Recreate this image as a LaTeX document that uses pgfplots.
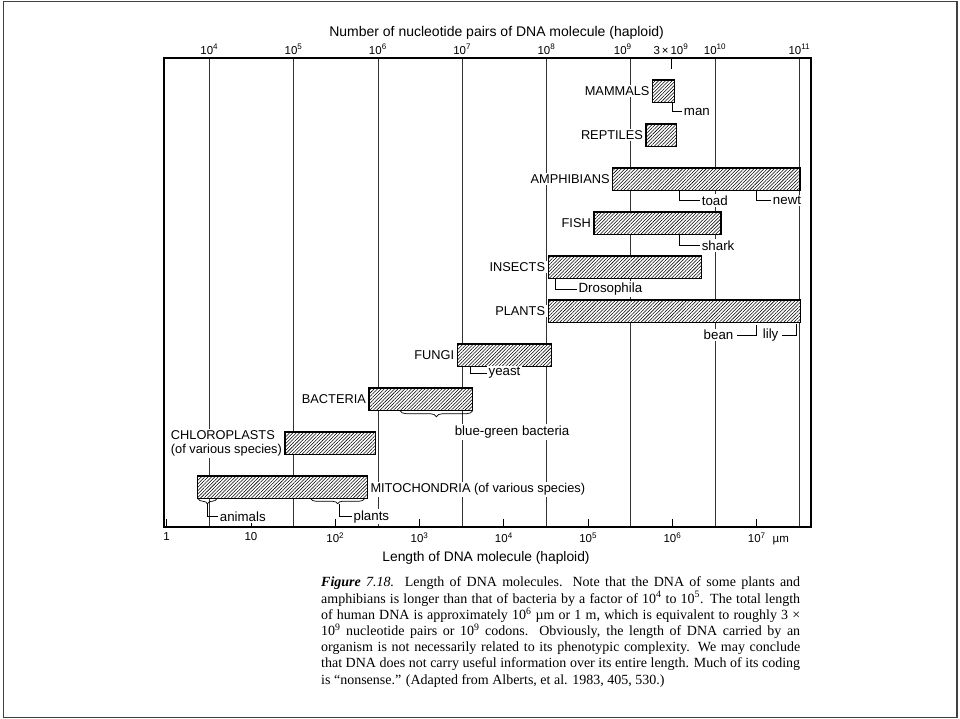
\documentclass[border=0pt]{standalone}
\usepackage{fontspec}
\setmainfont{Liberation Sans}
\newfontfamily\capfont{Liberation Serif}
\usepackage{pgfplots}
\pgfplotsset{compat=1.18}
\usetikzlibrary{patterns.meta,decorations.pathreplacing}
\tikzset{
  dnabar/.style={draw=black,line width=1.3pt,fill=white,
    postaction={pattern={Lines[angle=45,distance=2.4pt,line width=0.55pt]}}},
  lead/.style={draw=black,line width=0.7pt},
  lab/.style={font=\fontsize{12.8}{14.5}\selectfont,inner sep=1.5pt,fill=white},
  ann/.style={font=\fontsize{13.3}{15}\selectfont,inner sep=1.5pt,anchor=west,fill=white},
  brc/.style={draw=black,line width=0.7pt,decorate,decoration={brace,mirror,amplitude=5pt}},
}
\begin{document}
\begin{tikzpicture}[x=1pt,y=1pt]
\path[use as bounding box] (0,0) rectangle (960,719);
\draw[black!75,line width=1.2pt] (3.5,1.5) rectangle (957,717.5);
% top axis: nucleotide pairs
\begin{axis}[
  at={(164pt,192pt)}, anchor=south west, scale only axis,
  width=647pt, height=469pt,
  xmode=log, xmin=2906, xmax=1.375e11, ymin=0, ymax=1,
  axis x line*=top, hide y axis,
  xtick={1e4,1e5,1e6,1e7,1e8,1e9,1e10,1e11},
  xticklabels={10\textsuperscript{4},10\textsuperscript{5},10\textsuperscript{6},10\textsuperscript{7},10\textsuperscript{8},10\textsuperscript{9}\kern16pt,10\textsuperscript{10},10\textsuperscript{11}},
  xmajorgrids, major grid style={black!80,line width=0.6pt},
  major tick length=0pt, xminorticks=false,
  xticklabel style={font=\fontsize{11.5}{13}\selectfont},
  extra x ticks={3e9},
  extra x tick labels={3\,×\,10\textsuperscript{9}},
  extra x tick style={xmajorgrids=false, major tick length=11pt, tick align=inside,
    tick style={line width=0.8pt,black}},
]
\end{axis}
% main axis: length in micrometres
\begin{axis}[
  at={(164pt,192pt)}, anchor=south west, scale only axis,
  width=647pt, height=469pt,
  xmode=log, xmin=0.93, xmax=4.4e7, ymin=-0.902, ymax=9.753,
  clip=false, axis line style={line width=1.2pt},
  ytick=\empty,
  xtick={1,10,100,1000,1e4,1e5,1e6,1e7},
  xticklabels={1,10,10\textsuperscript{2},10\textsuperscript{3},10\textsuperscript{4},10\textsuperscript{5},10\textsuperscript{6},10\textsuperscript{7}\rlap{\kern7pt µm}},
  xtick pos=left, tick align=inside, major tick length=8pt, xminorticks=false,
  tick style={line width=0.8pt,black},
  xticklabel style={font=\fontsize{11.5}{13}\selectfont,yshift=-2pt},
]
% bars: (low, high) in micrometres, row index
\addplot[dnabar] coordinates {(5.84e5,8.746) (1.065e6,8.746) (1.065e6,9.254) (5.84e5,9.254)} -- cycle; % mammals
\addplot[dnabar] coordinates {(4.87e5,7.746) (1.125e6,7.746) (1.125e6,8.254) (4.87e5,8.254)} -- cycle; % reptiles
\addplot[dnabar] coordinates {(1.96e5,6.746) (3.27e7,6.746) (3.27e7,7.254) (1.96e5,7.254)} -- cycle; % amphibians
\addplot[dnabar] coordinates {(1.175e5,5.746) (3.77e6,5.746) (3.77e6,6.254) (1.175e5,6.254)} -- cycle; % fish
\addplot[dnabar] coordinates {(3.37e4,4.746) (2.23e6,4.746) (2.23e6,5.254) (3.37e4,5.254)} -- cycle; % insects
\addplot[dnabar] coordinates {(3.37e4,3.746) (3.33e7,3.746) (3.33e7,4.254) (3.37e4,4.254)} -- cycle; % plants
\addplot[dnabar] coordinates {(2812,2.746) (3.70e4,2.746) (3.70e4,3.254) (2812,3.254)} -- cycle; % fungi
\addplot[dnabar] coordinates {(252,1.746) (4276,1.746) (4276,2.254) (252,2.254)} -- cycle; % bacteria
\addplot[dnabar] coordinates {(25.4,0.746) (302,0.746) (302,1.254) (25.4,1.254)} -- cycle; % chloroplasts
\addplot[dnabar] coordinates {(2.34,-0.254) (240,-0.254) (240,0.254) (2.34,0.254)} -- cycle; % mitochondria
% category labels
\node[lab,anchor=east] at (5.6e5,9) {MAMMALS};
\node[lab,anchor=east] at (4.67e5,8) {REPTILES};
\node[lab,anchor=east] at (1.88e5,7) {AMPHIBIANS};
\node[lab,anchor=east] at (1.125e5,6) {FISH};
\node[lab,anchor=east] at (3.23e4,5) {INSECTS};
\node[lab,anchor=east] at (3.23e4,4) {PLANTS};
\node[lab,anchor=east] at (2695,3) {FUNGI};
\node[lab,anchor=east] at (242,2) {BACTERIA};
\node[lab,anchor=east,align=left,font=\fontsize{12.8}{14}\selectfont] at (24.4,1) {CHLOROPLASTS\\(of various species)};
\node[lab,anchor=west] at (250,-0.04) {MITOCHONDRIA (of various species)};
% annotations
\draw[lead] (9.89e5,8.746) |- (1.30e6,8.53) node[ann] {man};
\draw[lead] (1.197e6,6.746) |- (2.12e6,6.515) node[ann] {toad};
\draw[lead] (9.82e6,6.746) |- (1.48e7,6.515) node[ann] {newt};
\draw[lead] (1.197e6,5.746) |- (2.12e6,5.489) node[ann] {shark};
\draw[lead] (4.05e4,4.746) |- (7.32e4,4.505) node[ann] {Drosophila};
\node[ann,anchor=east] at (5.52e6,3.46) {bean};
\draw[lead] (5.84e6,3.46) -| (9.82e6,3.69);
\node[ann,anchor=east] at (1.89e7,3.46) {lily};
\draw[lead] (1.98e7,3.46) -| (2.98e7,3.70);
\draw[lead] (3970,2.746) |- (6270,2.597) node[ann] {yeast};
\draw[brc,decoration={amplitude=6pt}] (587,1.74) -- (4276,1.74);
\node[ann] at (2497,1.256) {blue-green bacteria};
\draw[brc] (2.36,-0.26) -- (3.93,-0.26);
\draw[lead] (3.04,-0.37) |- (4.07,-0.668) node[ann] {animals};
\draw[brc] (51.2,-0.26) -- (221,-0.26);
\draw[lead] (111,-0.37) |- (157,-0.668) node[ann] {plants};
\end{axis}
% axis titles
\node[font=\fontsize{14}{16}\selectfont] at (496.6,686) {Number of nucleotide pairs of DNA molecule (haploid)};
\node[font=\fontsize{13.8}{16}\selectfont] at (486,161) {Length of DNA molecule (haploid)};
% caption
\begin{scope}[every node/.style={anchor=base west,inner sep=0pt,font=\capfont\fontsize{14}{16}\selectfont}]
\node at (321,132) {\makebox[479pt][s]{\textbf{\textit{Figure}} \textit{7.18.}\ \ Length of DNA molecules. Note that the DNA of some plants and}};
\node at (321,115.8) {\makebox[479pt][s]{amphibians is longer than that of bacteria by a factor of 10\textsuperscript{4} to 10\textsuperscript{5}. The total length}};
\node at (321,99.6) {\makebox[479pt][s]{of human DNA is approximately 10\textsuperscript{6} µm or 1 m, which is equivalent to roughly 3 ×}};
\node at (321,83.4) {\makebox[479pt][s]{10\textsuperscript{9} nucleotide pairs or 10\textsuperscript{9} codons. Obviously, the length of DNA carried by an}};
\node at (321,67.2) {\makebox[479pt][s]{organism is not necessarily related to its phenotypic complexity. We may conclude}};
\node at (321,51) {\makebox[479pt][s]{that DNA does not carry useful information over its entire length. Much of its coding}};
\node at (321,34.8) {is “nonsense.” (Adapted from Alberts, et al. 1983, 405, 530.)};
\end{scope}
\end{tikzpicture}
\end{document}
